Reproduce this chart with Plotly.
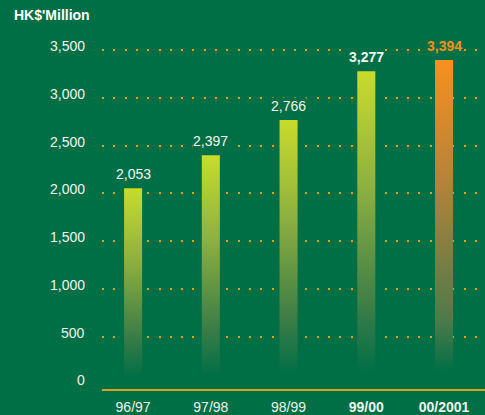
import plotly.graph_objects as go

categories = ["96/97", "97/98", "98/99", "99/00", "00/2001"]
values = [2053, 2397, 2766, 3277, 3394]
bold_flags = [False, False, False, True, True]
label_colors = ["#f2f5f0", "#f2f5f0", "#f2f5f0", "#f2f5f0", "#f5901e"]
y_ticks = [0, 500, 1000, 1500, 2000, 2500, 3000, 3500]
y_tick_text = ["0", "500", "1,000", "1,500", "2,000", "2,500", "3,000", "3,500"]

BG = "#006f46"
GRID = "#e3a01c"
AXIS = "#d8a21a"
TXT = "#eef3ec"
HALF_W = 0.116

GREEN_SCALE = [[0, BG], [0.04, BG], [0.25, "#3d7d47"], [0.63, "#8db040"], [1, "#c8dc2c"]]
ORANGE_SCALE = [[0, BG], [0.04, BG], [0.2, "#4f7a4a"], [0.63, "#b5833a"], [1, "#f8901d"]]
bar_scales = [GREEN_SCALE, GREEN_SCALE, GREEN_SCALE, GREEN_SCALE, ORANGE_SCALE]

fig = go.Figure()

for i, (cat, v) in enumerate(zip(categories, values)):
    xs = [i - HALF_W, i + HALF_W, i + HALF_W, i - HALF_W, i - HALF_W]
    ys = [0, 0, v, v, 0]
    fig.add_trace(go.Scatter(
        x=xs, y=ys, mode="lines", fill="toself",
        line=dict(width=0, color="rgba(0,0,0,0)"),
        fillgradient=dict(type="vertical", colorscale=bar_scales[i]),
        hoverinfo="skip", showlegend=False,
    ))

# value labels
for i, v in enumerate(values):
    txt = f"{v:,}"
    if bold_flags[i]:
        txt = f"<b>{txt}</b>"
    fig.add_annotation(
        x=i, y=v, xref="x", yref="y", text=txt, showarrow=False,
        yanchor="middle", yshift=14,
        font=dict(family="Liberation Sans, Arial", size=14, color=label_colors[i]),
        bgcolor=BG, borderpad=0,
    )

# y tick labels
for t, tt in zip(y_ticks, y_tick_text):
    fig.add_annotation(
        x=-0.038, y=t, xref="paper", yref="y", text=tt, showarrow=False,
        xanchor="right", yanchor="middle", yshift=4,
        font=dict(family="Liberation Sans, Arial", size=14, color=TXT),
    )

ticktext = [f"<b>{c}</b>" if b else c for c, b in zip(categories, bold_flags)]

fig.update_layout(
    width=485, height=415,
    paper_bgcolor=BG, plot_bgcolor=BG,
    margin=dict(l=102, r=0, t=30, b=26),
    title=dict(
        text="<b>HK$'Million</b>", x=14 / 485, y=1 - 15 / 415,
        xanchor="left", yanchor="middle", xref="container", yref="container",
        font=dict(family="Liberation Sans, Arial", size=14, color="#ffffff"),
    ),
    xaxis=dict(
        range=[-0.4, 4.527], tickvals=list(range(len(categories))), ticktext=ticktext,
        showgrid=False, zeroline=False, showline=True, linecolor=AXIS, linewidth=2,
        ticks="", tickfont=dict(family="Liberation Sans, Arial", size=14, color=TXT),
        ticklabelstandoff=4,
    ),
    yaxis=dict(
        range=[-48, 3709], tickvals=y_ticks[1:], showticklabels=False,
        showgrid=True, gridcolor=GRID, gridwidth=2, griddash="2px,9.3px",
        zeroline=False, showline=False, ticks="",
    ),
)

fig.write_html("out.html")
